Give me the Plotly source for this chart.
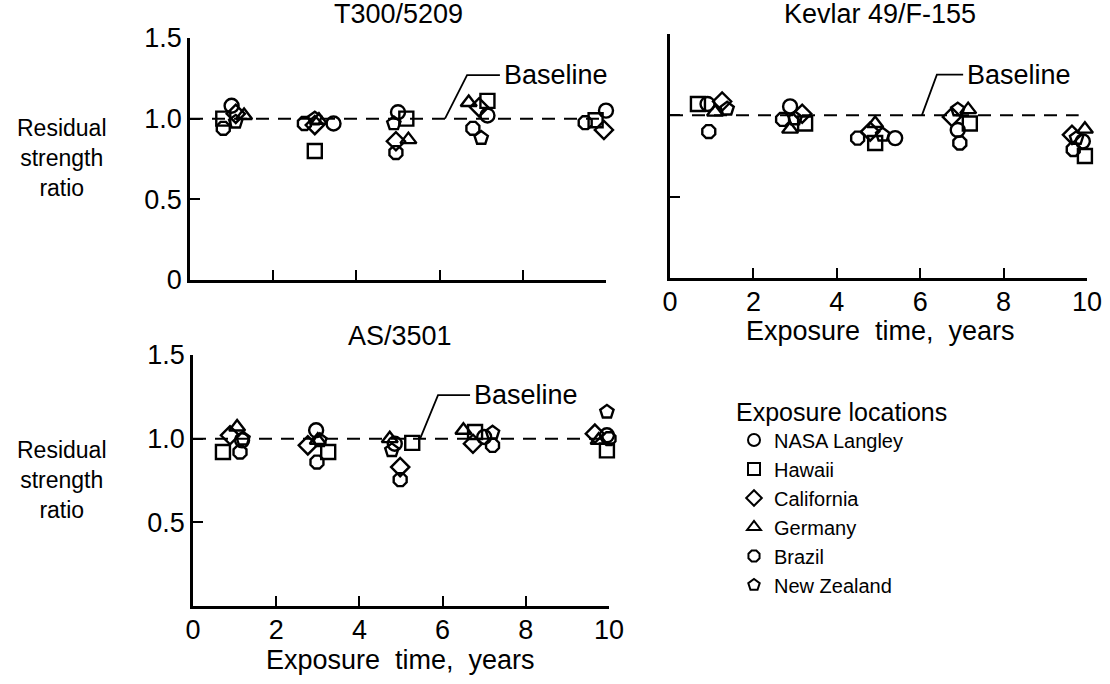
import plotly.graph_objects as go

FONT = "Liberation Sans, Arial, sans-serif"

locations = ["NASA Langley", "Hawaii", "California", "Germany", "Brazil", "New Zealand"]
symbols = ["circle-open", "square-open", "diamond-open", "triangle-up-open", "octagon-open", "pentagon-open"]

# T300/5209 (top-left) - x: exposure time (years, plotted with offsets), y: residual strength ratio
t300_x = {
    "NASA Langley": [1.0, 3.45, 5.0, 7.15, 10.0],
    "Hawaii":       [0.8, 3.0, 5.2, 7.15, 9.75],
    "California":   [1.1, 3.0, 4.95, 6.95, 9.95],
    "Germany":      [1.3, 3.1, 5.25, 6.7, 10.2],
    "Brazil":       [0.8, 2.75, 4.95, 6.8, 9.5],
    "New Zealand":  [1.1, 3.0, 4.9, 7.0, 10.05],
}
t300_y = {
    "NASA Langley": [1.08, 0.97, 1.04, 1.02, 1.05],
    "Hawaii":       [1.00, 0.80, 1.00, 1.11, 0.99],
    "California":   [1.03, 0.96, 0.86, 1.07, 0.93],
    "Germany":      [1.02, 0.99, 0.87, 1.10, 0.97],
    "Brazil":       [0.94, 0.97, 0.79, 0.94, 0.975],
    "New Zealand":  [0.98, 1.00, 0.97, 0.88, 1.00],
}

# Kevlar 49/F-155 (top-right)
kev_x = {
    "NASA Langley": [0.9, 2.88, 5.4, 6.9, 9.9],
    "Hawaii":       [0.67, 3.24, 4.92, 7.19, 9.95],
    "California":   [1.25, 3.17, 4.8, 6.76, 9.64],
    "Germany":      [1.08, 2.88, 4.92, 7.15, 9.95],
    "Brazil":       [0.93, 2.7, 4.5, 6.95, 9.67],
    "New Zealand":  [1.37, 3.0, 5.1, 6.9, 9.75],
}
kev_y = {
    "NASA Langley": [1.07, 1.055, 0.86, 0.91, 0.84],
    "Hawaii":       [1.07, 0.95, 0.83, 0.95, 0.75],
    "California":   [1.085, 1.01, 0.90, 0.99, 0.88],
    "Germany":      [1.02, 0.915, 0.95, 1.035, 0.915],
    "Brazil":       [0.90, 0.975, 0.86, 0.83, 0.79],
    "New Zealand":  [1.04, 0.98, 0.88, 1.035, 0.86],
}

# AS/3501 (bottom-left)
as_x = {
    "NASA Langley": [1.18, 2.96, 4.85, 7.0, 9.95],
    "Hawaii":       [0.72, 3.25, 5.27, 6.78, 9.95],
    "California":   [0.89, 2.76, 4.98, 6.73, 9.66],
    "Germany":      [1.06, 3.0, 4.73, 6.5, 9.75],
    "Brazil":       [1.13, 2.98, 4.98, 7.2, 10.0],
    "New Zealand":  [1.2, 3.05, 4.78, 7.2, 9.95],
}
as_y = {
    "NASA Langley": [0.99, 1.05, 0.97, 1.01, 1.02],
    "Hawaii":       [0.92, 0.92, 0.975, 1.04, 0.93],
    "California":   [1.02, 0.96, 0.83, 0.97, 1.03],
    "Germany":      [1.07, 0.99, 1.00, 1.05, 0.99],
    "Brazil":       [0.92, 0.86, 0.755, 0.96, 1.00],
    "New Zealand":  [1.00, 0.99, 0.93, 1.035, 1.16],
}

panel_titles = ["T300/5209", "Kevlar 49/F-155", "AS/3501"]
x_ticks = [0, 2, 4, 6, 8, 10]
y_ticks = [0, 0.5, 1.0, 1.5]
y_tick_text = ["0", "0.5", "1.0", "1.5"]
baseline = 1.0

W, H = 1110, 684

def px_x(p):
    return p / W

def px_y(p):
    return 1 - p / H

fig = go.Figure()

panels = [
    (t300_x, t300_y, "x", "y"),
    (kev_x, kev_y, "x2", "y2"),
    (as_x, as_y, "x3", "y3"),
]
for pi, (dx, dy, xa, ya) in enumerate(panels):
    for loc, sym in zip(locations, symbols):
        fig.add_trace(go.Scatter(
            x=dx[loc], y=dy[loc], mode="markers", xaxis=xa, yaxis=ya,
            name=loc, showlegend=(pi == 0),
            cliponaxis=False,
            marker=dict(symbol=sym, size=14, color="black",
                        line=dict(color="black", width=2.4)),
        ))

axis_common = dict(showline=True, linecolor="black", linewidth=2.5,
                   ticks="inside", ticklen=10, tickwidth=2, tickcolor="black",
                   showgrid=False, zeroline=False, automargin=False,
                   tickfont=dict(family=FONT, size=27, color="black"))

fig.update_layout(
    width=W, height=H,
    margin=dict(l=0, r=0, t=0, b=0, pad=0, autoexpand=False),
    paper_bgcolor="white", plot_bgcolor="white",
    font=dict(family=FONT, color="black"),
    xaxis=dict(domain=[px_x(190), px_x(606)], range=[0, 10], tickvals=x_ticks,
               showticklabels=False, anchor="y", **axis_common),
    yaxis=dict(domain=[px_y(280), px_y(38)], range=[0, 1.5], tickvals=y_ticks,
               ticktext=y_tick_text, anchor="x", **axis_common),
    xaxis2=dict(domain=[px_x(670), px_x(1087)], range=[0, 10], tickvals=x_ticks,
                anchor="y2", ticklabelstandoff=-2, **axis_common),
    yaxis2=dict(domain=[px_y(278), px_y(34)], range=[0, 1.5], tickvals=[0.5, 1.0, 1.5],
                showticklabels=False, anchor="x2", **axis_common),
    xaxis3=dict(domain=[px_x(193), px_x(609)], range=[0, 10], tickvals=x_ticks,
                anchor="y3", ticklabelstandoff=-2, **axis_common),
    yaxis3=dict(domain=[px_y(606), px_y(355)], range=[0, 1.5], tickvals=[0.5, 1.0, 1.5],
                ticktext=["0.5", "1.0", "1.5"], anchor="x3", **axis_common),
    legend=dict(x=px_x(734), y=px_y(388), xanchor="left", yanchor="top",
                bgcolor="rgba(0,0,0,0)", font=dict(family=FONT, size=20, color="black"),
                title=dict(text="Exposure locations", font=dict(family=FONT, size=25, color="black")),
                itemsizing="constant"),
    showlegend=True,
)

# Baselines (dashed) and leader lines
base_ext = [10.45, 9.8, 10.4]
leader = [  # start x, elbow x, end x, elbow y
    (6.13, 6.66, 7.45, 1.27),
    (6.04, 6.40, 7.03, 1.25),
    (5.46, 5.89, 6.66, 1.26),
]
for i, (xa, ya) in enumerate([("x", "y"), ("x2", "y2"), ("x3", "y3")]):
    fig.add_shape(type="line", xref=xa, yref=ya, x0=0, x1=base_ext[i], y0=baseline, y1=baseline,
                  line=dict(color="black", width=2, dash="13px,9px"))
    sx, ex, endx, ey = leader[i]
    fig.add_shape(type="path", xref=xa, yref=ya,
                  path=f"M {sx},{baseline} L {ex},{ey} L {endx},{ey}",
                  line=dict(color="black", width=1.8))
    fig.add_annotation(xref=xa, yref=ya, x=endx + 0.05, y=ey, text="Baseline",
                       showarrow=False, xanchor="left", yanchor="middle",
                       font=dict(family=FONT, size=27, color="black"))

# Panel titles
title_pos = [(398, 14), (880, 14), (400, 336)]
for t, (tx, ty) in zip(panel_titles, title_pos):
    fig.add_annotation(xref="paper", yref="paper", x=px_x(tx), y=px_y(ty), text=t,
                       showarrow=False, xanchor="center", yanchor="middle",
                       font=dict(family=FONT, size=27, color="black"))

# y-axis titles
for cy in (158, 480):
    fig.add_annotation(xref="paper", yref="paper", x=px_x(62), y=px_y(cy),
                       text="Residual<br>strength<br>ratio", showarrow=False,
                       xanchor="center", yanchor="middle", align="center",
                       font=dict(family=FONT, size=23, color="black"))

# x-axis titles
for cx, cy in ((880, 331), (400, 660)):
    fig.add_annotation(xref="paper", yref="paper", x=px_x(cx), y=px_y(cy),
                       text="Exposure  time,  years", showarrow=False,
                       xanchor="center", yanchor="middle",
                       font=dict(family=FONT, size=27, color="black"))

fig.write_html("out.html")
